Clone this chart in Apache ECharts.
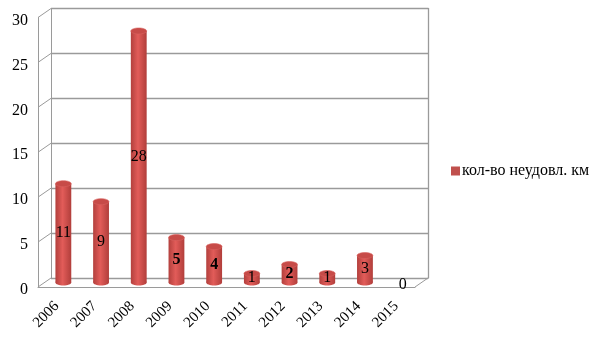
<!DOCTYPE html>
<html>
<head>
<meta charset="utf-8">
<script src="https://cdn.jsdelivr.net/npm/echarts@6/dist/echarts.min.js"></script>
<style>
  html, body { margin: 0; padding: 0; background: #fff; }
  #chart { width: 605px; height: 340px; }
</style>
</head>
<body>
<div id="chart"></div>
<script>
// Unsatisfactory-condition kilometres per year
const years = ['2006', '2007', '2008', '2009', '2010', '2011', '2012', '2013', '2014', '2015'];
const kmValues = [11, 9, 28, 5, 4, 1, 2, 1, 3, 0];
const seriesName = 'кол-во неудовл. км';
const yTicks = [0, 5, 10, 15, 20, 25, 30];
const boldLabelYears = ['2009', '2010', '2012'];

const FONT = '"Liberation Serif", "Times New Roman", serif';
const LINE = '#9a9a9a';
// half of the box depth: offset from the mid plane to the back wall / front edge
const DX = 6.5, DY = 4.5;

const chart = echarts.init(document.getElementById('chart'), null, { renderer: 'canvas' });

const yBase = { type: 'value', min: 0, max: 30, interval: 5 };

function cylinder(params, api) {
  const i = api.value(0);
  const v = api.value(1);
  const top = api.coord([i, v]);
  const base = api.coord([i, 0]);
  const w = api.size([1, 0])[0] * 0.42;
  const rx = w / 2, ry = 3;
  const cx = top[0];
  const bold = boldLabelYears.indexOf(years[i]) >= 0;
  const children = [];
  if (v > 0) {
    const body = new echarts.graphic.LinearGradient(0, 0, 1, 0, [
      { offset: 0, color: '#b3403d' },
      { offset: 0.45, color: '#e25c59' },
      { offset: 1, color: '#b13e3b' }
    ]);
    children.push({
      type: 'ellipse', shape: { cx: cx, cy: base[1], rx: rx, ry: ry },
      style: { fill: body }
    });
    children.push({
      type: 'rect', shape: { x: cx - rx, y: top[1], width: w, height: base[1] - top[1] },
      style: { fill: body }
    });
    children.push({
      type: 'ellipse', shape: { cx: cx, cy: top[1], rx: rx, ry: ry },
      style: { fill: '#c74b48', stroke: '#d8635f', lineWidth: 0.6 }
    });
  }
  children.push({
    type: 'text',
    x: cx, y: v > 0 ? (top[1] + base[1]) / 2 : base[1] + 2,
    style: {
      text: String(v), fill: '#000', font: (bold ? 'bold ' : '') + '16px ' + FONT,
      align: 'center', verticalAlign: 'middle'
    },
    z2: 10
  });
  return { type: 'group', children: children };
}

// slanted edges joining the front edge to the back wall
function depthEdges(params, api) {
  const cs = params.coordSys;
  const v = api.value(1);
  const y = api.coord([0, v])[1];
  const children = [{
    type: 'line',
    shape: { x1: cs.x - DX, y1: y + DY, x2: cs.x + DX, y2: y - DY },
    style: { stroke: LINE, lineWidth: 1 }
  }];
  if (v === 0) {
    children.push({
      type: 'line',
      shape: { x1: cs.x + cs.width - DX, y1: y + DY, x2: cs.x + cs.width + DX, y2: y - DY },
      style: { stroke: LINE, lineWidth: 1 }
    });
  }
  return { type: 'group', children: children };
}

const option = {
  backgroundColor: '#fff',
  animation: false,
  color: ['#c0504d'],
  legend: {
    data: [seriesName],
    left: 446, top: 158,
    icon: 'rect', itemWidth: 9, itemHeight: 9, itemGap: 4,
    textStyle: { fontFamily: FONT, fontSize: 16, color: '#000', padding: [0, 0, 0, -3] }
  },
  grid: [
    // mid plane: bars
    { left: 44.5, right: 183.5, top: 13, bottom: 57.5 },
    // back wall
    { left: 51, right: 177, top: 8.5, bottom: 62 },
    // front edge
    { left: 38, right: 190, top: 17.5, bottom: 53 }
  ],
  xAxis: [
    { gridIndex: 0, type: 'category', data: years, show: false },
    { gridIndex: 1, type: 'category', data: years, show: false },
    {
      gridIndex: 2, type: 'category', data: years,
      axisLine: { show: true, lineStyle: { color: LINE, width: 1 } },
      axisTick: { show: false },
      axisLabel: {
        rotate: 45, margin: 17, interval: 0,
        fontFamily: FONT, fontSize: 15, color: '#000'
      }
    }
  ],
  yAxis: [
    Object.assign({ gridIndex: 0, show: false }, yBase),
    Object.assign({ gridIndex: 1, position: 'left',
      axisLine: { show: true, lineStyle: { color: LINE, width: 1 } },
      axisTick: { show: false }, axisLabel: { show: false },
      splitLine: { show: true, lineStyle: { color: LINE, width: 1.3 } }
    }, yBase),
    Object.assign({ gridIndex: 1, position: 'right',
      axisLine: { show: true, lineStyle: { color: LINE, width: 1.3 } },
      axisTick: { show: false }, axisLabel: { show: false },
      splitLine: { show: false }
    }, yBase),
    Object.assign({ gridIndex: 2, position: 'left',
      axisLine: { show: true, lineStyle: { color: LINE, width: 1 } },
      axisTick: { show: false },
      axisLabel: {
        margin: 10, color: '#000',
        formatter: '{v|{value}}',
        rich: { v: { fontFamily: FONT, fontSize: 16, color: '#000', padding: [6, 0, 0, 0] } }
      },
      splitLine: { show: false }
    }, yBase)
  ],
  series: [
    {
      type: 'custom', name: 'edges', xAxisIndex: 0, yAxisIndex: 0,
      renderItem: depthEdges, silent: true,
      data: yTicks.map(t => [0, t]), z: 1
    },
    {
      type: 'custom', name: seriesName, xAxisIndex: 0, yAxisIndex: 0,
      renderItem: cylinder,
      itemStyle: { color: '#c0504d' },
      data: kmValues.map((v, i) => [i, v]), z: 5
    }
  ]
};

chart.setOption(option);
</script>
</body>
</html>
